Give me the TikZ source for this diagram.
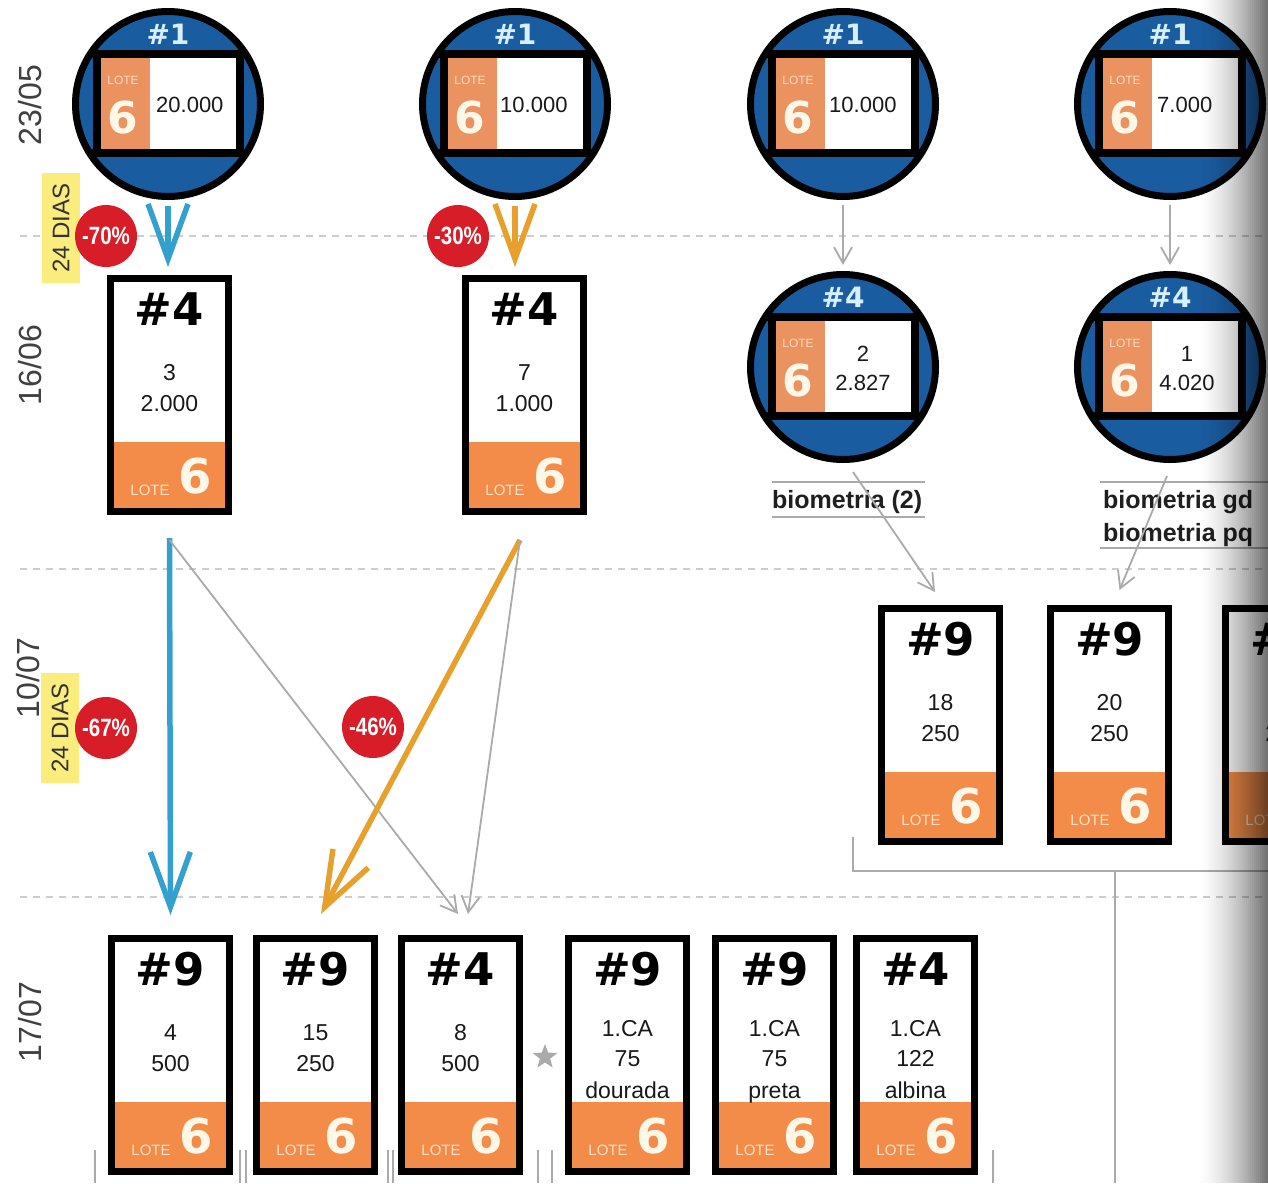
\documentclass[tikz,border=0pt]{standalone}
\usepackage{fontspec}
\setmainfont{Liberation Sans}
\newfontfamily\dvs{DejaVu Sans}
\usetikzlibrary{arrows.meta,calc,shapes.geometric}
\definecolor{circblue}{RGB}{26,92,160}
\definecolor{circhead}{RGB}{215,240,255}
\definecolor{loteorange}{RGB}{242,140,72}
\definecolor{circorange}{RGB}{234,146,96}
\definecolor{cream}{RGB}{255,248,232}
\definecolor{arrblue}{RGB}{52,160,205}
\definecolor{arrorange}{RGB}{232,160,45}
\definecolor{pctred}{RGB}{215,30,40}
\definecolor{diasyellow}{RGB}{250,236,125}
\definecolor{linegray}{RGB}{170,170,170}
\definecolor{dashgray}{RGB}{205,205,205}

\tikzset{
  boxframe/.style={draw=black, line width=7pt, minimum width=118pt, minimum height=233pt, inner sep=0pt},
  hdr/.style={font=\dvs\bfseries\fontsize{45}{50}\selectfont, anchor=base, inner sep=0pt, text=black},
  boxtxt/.style={font=\fontsize{23}{26}\selectfont, anchor=base, inner sep=0pt, text=black!90},
  six/.style={font=\dvs\bfseries\fontsize{48}{50}\selectfont, anchor=base, inner sep=0pt, text=cream},
  lotesm/.style={font=\fontsize{15}{16}\selectfont, anchor=base, inner sep=0pt, text=cream!80!loteorange},
  lotecircle/.style={circle, draw=black, line width=7pt, fill=circblue, minimum size=185pt, inner sep=0pt},
  circhdr/.style={font=\dvs\bfseries\fontsize{28}{30}\selectfont, anchor=base, inner sep=0pt, text=circhead},
  circnum/.style={font=\fontsize{22}{26}\selectfont, anchor=base, inner sep=0pt, text=black!90},
  circsix/.style={font=\dvs\bfseries\fontsize{44}{46}\selectfont, anchor=base, inner sep=0pt, text=cream},
  tinylote/.style={font=\fontsize{12}{13}\selectfont, anchor=base, inner sep=0pt, text=cream!70!circorange},
  pct/.style={circle, fill=pctred, minimum size=62pt, inner sep=0pt, text=white, font=\bfseries\fontsize{25}{27}\selectfont},
  dias/.style={fill=diasyellow, minimum width=110pt, minimum height=38pt, inner sep=0pt, text=black!80, font=\fontsize{24}{26}\selectfont, rotate=90},
  datelbl/.style={font=\fontsize{32}{34}\selectfont, text=black!75, rotate=90, inner sep=0pt},
  bigblue/.style={draw=arrblue, line width=5.5pt, -{Straight Barb[length=55pt,width=40pt]}},
  bigorange/.style={draw=arrorange, line width=5.5pt, -{Straight Barb[length=55pt,width=40pt]}},
  grayarrow/.style={draw=linegray, line width=1.8pt, -{Straight Barb[length=16pt,width=18pt]}},
  dashline/.style={draw=dashgray, line width=1.5pt, dash pattern=on 7pt off 6pt},
  bracketline/.style={draw=linegray, line width=2pt},
  biolbl/.style={font=\bfseries\fontsize{25}{28}\selectfont, text=black!88, anchor=base west, inner sep=0pt},
}

\newcommand\LBoxFrame[4]{%
  \fill[loteorange] (#2+5,#3+167) rectangle (#2+120,#3+235);
  \node[boxframe, anchor=north west] (#1) at (#2,#3) {};
  \node[hdr] at (#2+62.5,#3+50) {#4};
  \node[lotesm] at (#2+43,#3+220) {LOTE};
  \node[six] at (#2+88,#3+218) {6};
}
\newcommand\LBoxTwo[6]{%
  \LBoxFrame{#1}{#2}{#3}{#4}%
  \node[boxtxt] at (#2+62.5,#3+105) {#5};
  \node[boxtxt] at (#2+62.5,#3+136) {#6};
}
\newcommand\LBoxThree[7]{%
  \LBoxFrame{#1}{#2}{#3}{#4}%
  \node[boxtxt] at (#2+62.5,#3+101) {#5};
  \node[boxtxt] at (#2+62.5,#3+131) {#6};
  \node[boxtxt] at (#2+62.5,#3+163) {#7};
}
\newcommand\LCircle[4]{%
  \node[lotecircle] (#1) at (#2,#3) {};
  \begin{scope}
    \clip (#2,#3) circle[radius=90pt];
    \draw[line width=8pt] (#2-100,#3-50) -- (#2+100,#3-50) (#2-100,#3+49) -- (#2+100,#3+49);
  \end{scope}
  \fill[white] (#2-71,#3-50) rectangle (#2+72,#3+49);
  \fill[circorange] (#2-71,#3-50) rectangle (#2-18,#3+49);
  \draw[line width=8pt] (#2-71,#3-50) rectangle (#2+72,#3+49);
  \node[circhdr] at (#2,#3-60) {#4};
  \node[tinylote] at (#2-45,#3-20) {LOTE};
  \node[circsix] at (#2-45,#3+29) {6};
}

\begin{document}
\begin{tikzpicture}[x=1pt,y=-1pt]
\useasboundingbox (0,0) rectangle (1268,1183);
\clip (0,0) rectangle (1268,1183);
\fill[white] (0,0) rectangle (1268,1183);

% dashed time lines
\draw[dashline] (20,236) -- (1268,236);
\draw[dashline] (20,569) -- (1268,569);
\draw[dashline] (20,897) -- (1268,897);

% date labels
\node[datelbl] (d1) at (30,105) {23/05};
\node[datelbl] (d2) at (30,365) {16/06};
\node[datelbl] (d3) at (28,678) {10/07};
\node[datelbl] (d4) at (30,1022) {17/07};
\node[dias] (y1) at (61,228) {24 DIAS};
\node[dias] (y2) at (60,728) {24 DIAS};

% row 1 circles
\LCircle{c11}{168}{104}{\#1}
\node[circnum, anchor=base west] (n11) at (156,112) {20.000};
\LCircle{c12}{515}{104}{\#1}
\node[circnum, anchor=base west] (n12) at (500,112) {10.000};
\LCircle{c13}{843}{104}{\#1}
\node[circnum, anchor=base west] (n13) at (829,112) {10.000};
\LCircle{c14}{1170}{104}{\#1}
\node[circnum, anchor=base west] (n14) at (1157,112) {7.000};

% row 2
\LBoxTwo{b21}{107}{275}{\#4}{3}{2.000}
\LBoxTwo{b22}{462}{275}{\#4}{7}{1.000}
\LCircle{c23}{843}{367}{\#4}
\node[circnum] (n23a) at (863,361) {2};
\node[circnum] (n23b) at (863,390) {2.827};
\LCircle{c24}{1170}{367}{\#4}
\node[circnum] (n24a) at (1187,361) {1};
\node[circnum] (n24b) at (1187,390) {4.020};

% biometria labels
\draw[bracketline] (772,482) -- (925,482) (772,517) -- (925,517);
\node[biolbl] (bio1) at (772,508) {biometria (2)};
\draw[bracketline] (1100,482) -- (1268,482) (1100,548) -- (1268,548);
\node[biolbl] (bio2) at (1103,508) {biometria gd};
\node[biolbl] (bio3) at (1103,541) {biometria pq};

% row 3
\LBoxTwo{b31}{878}{605}{\#9}{18}{250}
\LBoxTwo{b32}{1047}{605}{\#9}{20}{250}
\LBoxTwo{b33}{1222}{605}{\#9}{}{250}
\draw[bracketline] (853,837) -- (853,871) -- (1268,871);
\draw[bracketline] (1115,871) -- (1115,1183);

% row 4
\LBoxTwo{b41}{108}{935}{\#9}{4}{500}
\LBoxTwo{b42}{253}{935}{\#9}{15}{250}
\LBoxTwo{b43}{398}{935}{\#4}{8}{500}
\node[star, star points=5, star point ratio=2.4, fill=linegray, minimum size=26pt, inner sep=0pt] (star) at (545,1057) {};
\LBoxThree{b44}{565}{935}{\#9}{1.CA}{75}{dourada}
\LBoxThree{b45}{712}{935}{\#9}{1.CA}{75}{preta}
\LBoxThree{b46}{853}{935}{\#4}{1.CA}{122}{albina}
\foreach \bx in {95,240,246,388,393,538,552,993}
  \draw[bracketline] (\bx,1150) -- (\bx,1183);

% connectors
\coordinate (o1) at ($(b21.south)+(0,25)$);
\coordinate (o2) at ($(b22.south)+(-4.5,25)$);
\draw[bigblue] ($(c11.south)+(0,6)$) -- ($(c11.south |- b21.north)+(0,-8)$);
\draw[bigorange] ($(c12.south)+(0,6)$) -- ($(c12.south |- b22.north)+(0,-8)$);
\draw[grayarrow] ($(c13.south)+(0,5)$) -- ($(c23.north)+(0,-6)$);
\draw[grayarrow] ($(c14.south)+(0,5)$) -- ($(c24.north)+(0,-6)$);
\draw[bigblue] ($(b21.south)+(0,23)$) -- ($(b41.north)+(0,-20)$);
\draw[grayarrow] (o1) -- ($(b43.north)+(-2.5,-21)$);
\draw[bigorange] (o2) -- ($(b42.north)+(5.5,-21)$);
\draw[grayarrow] (o2) -- ($(b43.north)+(7.5,-21)$);
\draw[grayarrow] ($(c23.south)+(10,9)$) -- ($(b31.north)+(-5.5,-13)$);
\draw[grayarrow] ($(c24.south)+(-3,13)$) -- ($(b32.north)+(10,-15)$);

% percentage badges
\node[pct] (p1) at (106,236) {\scalebox{0.82}[1]{-70\%}};
\node[pct] (p2) at (458,236) {\scalebox{0.82}[1]{-30\%}};
\node[pct] (p3) at (106,728) {\scalebox{0.82}[1]{-67\%}};
\node[pct] (p4) at (373,727) {\scalebox{0.82}[1]{-46\%}};

% page edge shading (scan fold), built from thin translucent strips
\foreach \i in {0,...,35}{
  \pgfmathsetmacro\op{0.55*(\i/35)^1.6}
  \fill[black, fill opacity=\op] (1196+2*\i,0) rectangle (1198.2+2*\i,1183);
}
\end{tikzpicture}
\end{document}
